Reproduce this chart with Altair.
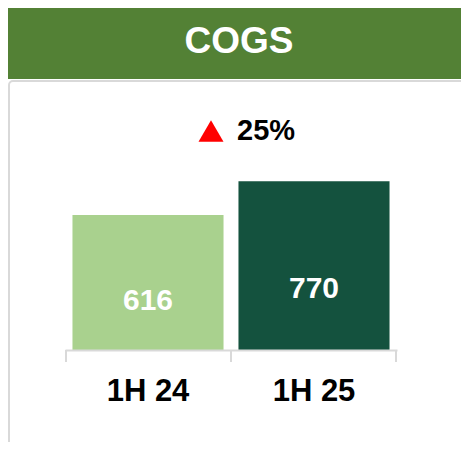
import altair as alt
import pandas as pd

title_text = "COGS"
periods = ["1H 24", "1H 25"]
values = [616, 770]
bar_colors = ["#A9D18E", "#14523E"]

change_pct = round((values[1] - values[0]) / values[0] * 100)
change_label = f"{change_pct}%"

df = pd.DataFrame({"period": periods, "value": values})

FONT = "Liberation Sans"
W, H = 332, 240
PAD = {"left": 57, "top": 102, "right": 64, "bottom": 92}

one = alt.Data(values=[{}])

x_enc = alt.X(
    "period:N",
    sort=periods,
    scale=alt.Scale(paddingInner=0.09, paddingOuter=0.045),
    axis=alt.Axis(
        title=None,
        labelAngle=0,
        labelFont=FONT,
        labelFontSize=31,
        labelFontWeight="bold",
        labelColor="#000000",
        labelBaseline="middle",
        labelPadding=41,
        domainColor="#d9d9d9",
        domainWidth=2,
        ticks=False,
        grid=False,
        zindex=1,
    ),
)

banner = alt.Chart(one).mark_rect(color="#538135").encode(
    x=alt.value(-57), x2=alt.value(W + 72), y=alt.value(-104), y2=alt.value(-31)
)
banner_text = alt.Chart(one).mark_text(
    text=title_text, font=FONT, fontSize=37, fontWeight="bold", color="white",
    align="center", baseline="middle",
).encode(x=alt.value(174), y=alt.value(-68))

panel = alt.Chart(one).mark_rect(
    fill="white", stroke="#d9d9d9", strokeWidth=2, cornerRadius=4
).encode(x=alt.value(-56), x2=alt.value(W + 120), y=alt.value(-29), y2=alt.value(H + 150))

bars = alt.Chart(df).mark_bar().encode(
    x=x_enc,
    y=alt.Y("value:Q", scale=alt.Scale(domain=[0, 1095]), axis=None),
    color=alt.Color("period:N", scale=alt.Scale(domain=periods, range=bar_colors), legend=None),
)

labels = alt.Chart(df).transform_calculate(
    ly="datum.value * 0.36"
).mark_text(
    font=FONT, fontSize=30, fontWeight="bold", color="white", baseline="middle", align="center"
).encode(
    x=alt.X("period:N", sort=periods),
    y=alt.Y("ly:Q", scale=alt.Scale(domain=[0, 1095])),
    text=alt.Text("value:Q"),
)

tick_layers = [
    alt.Chart(one).mark_rule(color="#d9d9d9", strokeWidth=2).encode(
        x=alt.value(tx), y=alt.value(H), y2=alt.value(H + 12)
    )
    for tx in (1, W / 2, W - 1)
]

tri = alt.Chart(one).mark_point(
    shape="triangle-up", filled=True, color="#FF0000", size=625, opacity=1
).encode(x=alt.value(146), y=alt.value(21))

pct = alt.Chart(one).mark_text(
    text=change_label, font=FONT, fontSize=29, fontWeight="bold", color="#000000",
    align="left", baseline="middle",
).encode(x=alt.value(172), y=alt.value(21))

chart = alt.layer(panel, banner, banner_text, *tick_layers, bars, labels, tri, pct).properties(
    width=W, height=H,
    padding=PAD,
    autosize="none",
    background="white",
).configure_view(stroke=None)

chart.save("out.html", embed_options={"renderer": "svg", "actions": False})
